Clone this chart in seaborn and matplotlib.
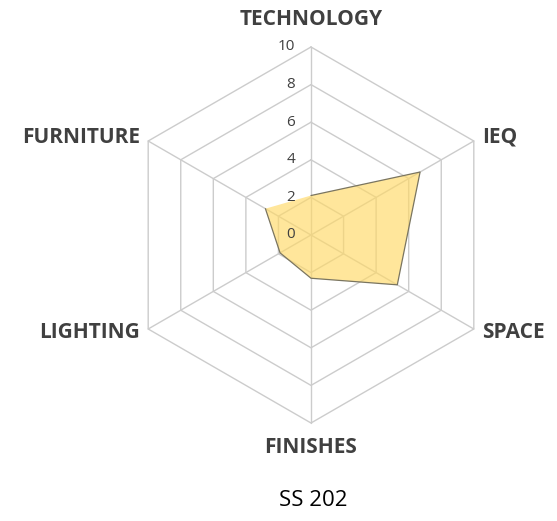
import numpy as np
import pandas as pd
import matplotlib
matplotlib.use('Agg')
import matplotlib.pyplot as plt
import seaborn as sns

# radar data
categories = ['TECHNOLOGY', 'IEQ', 'SPACE', 'FINISHES', 'LIGHTING', 'FURNITURE']
scores = [2.1, 6.7, 5.3, 2.3, 1.9, 2.8]
ring_levels = [0, 2, 4, 6, 8, 10]
chart_title = 'SS 202'

sns.set_theme(style='white')
plt.rcParams['font.family'] = ['Open Sans', 'DejaVu Sans']

# axis angles, clockwise from the top
angles = np.deg2rad(90 - 60 * np.arange(len(categories)))
df = pd.DataFrame({'category': categories, 'score': scores, 'angle': angles})
df['x'] = df['score'] * np.cos(df['angle'])
df['y'] = df['score'] * np.sin(df['angle'])

px = 18.8  # pixels per unit
fig = plt.figure(figsize=(5.57, 5.21), dpi=100)
ax = fig.add_axes([0, 0, 1, 1])
ax.set_xlim(-311 / px, (557 - 311) / px)
ax.set_ylim(-(521 - 235) / px, 235 / px)
ax.set_aspect('equal')
ax.axis('off')

grid_col = '#cccccc'
# hexagonal rings
for r in ring_levels[1:]:
    hx = np.append(r * np.cos(angles), r * np.cos(angles[0]))
    hy = np.append(r * np.sin(angles), r * np.sin(angles[0]))
    ax.plot(hx, hy, color=grid_col, lw=1, zorder=1)
# spokes
for a in angles:
    ax.plot([0, 10 * np.cos(a)], [0, 10 * np.sin(a)], color=grid_col, lw=1, zorder=1)

# data polygon
ax.fill(df['x'], df['y'], color='#ffd966', alpha=0.65, zorder=2, lw=0)
sns.lineplot(x=np.append(df['x'], df['x'].iloc[0]), y=np.append(df['y'], df['y'].iloc[0]),
             sort=False, color='#7a7560', lw=0.9, ax=ax, zorder=3)

# ring value labels
for r in ring_levels:
    ax.text(-16 / px, r, str(r), ha='right', va='center', fontsize=11, color='#404040', zorder=4)

# category labels
lab_kw = dict(fontsize=15, fontweight='bold', color='#404040')
for cat, a in zip(categories, angles):
    vx, vy = 10 * np.cos(a), 10 * np.sin(a)
    if abs(np.cos(a)) < 0.01:
        off = 1.45 if vy > 0 else -1.3
        ax.text(vx, vy + off, cat, ha='center', va='center', **lab_kw)
    elif vx > 0:
        ax.text(vx + 0.45, vy + 0.2 * np.sign(vy), cat, ha='left', va='center', **lab_kw)
    else:
        ax.text(vx - 0.45, vy + 0.2 * np.sign(vy), cat, ha='right', va='center', **lab_kw)

ax.text(0.1, -(500 - 235) / px, chart_title, ha='center', va='center', fontsize=16, color='black')

fig.savefig('out.png', dpi=100)
